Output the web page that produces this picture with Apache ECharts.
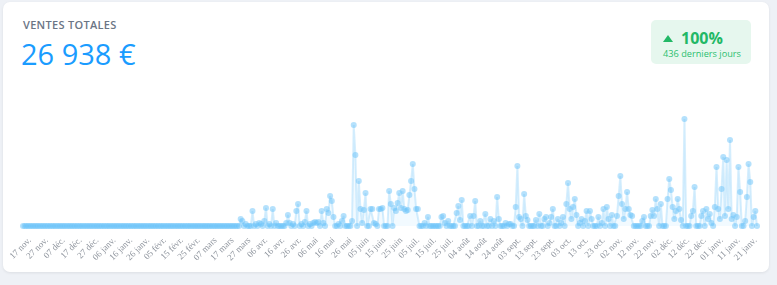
<!DOCTYPE html>
<html>
<head>
<meta charset="utf-8">
<script src="https://cdn.jsdelivr.net/npm/echarts@6/dist/echarts.min.js"></script>
<style>
html,body{margin:0;padding:0;width:777px;height:285px;background:#eef1f6;overflow:hidden;font-family:"Open Sans","Noto Sans",sans-serif;}
#card{position:absolute;left:3px;top:2px;width:766px;height:270px;background:#fff;border-radius:7px;box-shadow:0 1px 3px rgba(0,0,0,0.08);}
#title{position:absolute;left:23px;top:17px;font-size:11px;font-weight:600;color:#6b7585;letter-spacing:0.3px;}
#total{position:absolute;left:21px;top:34px;font-size:29px;color:#1a9cff;font-weight:400;}
#badge{position:absolute;left:651px;top:20px;width:100px;height:44px;background:#e6f7ee;border-radius:5px;}
#pct{position:absolute;left:12px;top:7px;font-size:16px;font-weight:700;color:#22b866;white-space:nowrap;}
#pct .tri{display:inline-block;width:0;height:0;border-left:5px solid transparent;border-right:5px solid transparent;border-bottom:7px solid #22b866;margin-right:8px;vertical-align:2px;}
#days{position:absolute;left:12px;top:27px;font-size:9.2px;color:#2bbf6e;white-space:nowrap;}
#chart{position:absolute;left:0;top:0;width:777px;height:285px;}
</style>
</head>
<body>
<div id="card"></div>
<div id="title">VENTES TOTALES</div>
<div id="total">26 938 €</div>
<div id="badge"><div id="pct"><span class="tri"></span>100%</div><div id="days">436 derniers jours</div></div>
<div id="chart"></div>
<script>
const startDate = [2022, 10, 17]; // 17 nov.
const monthNames = ["janv.","févr.","mars","avr.","mai","juin","juil.","août","sept.","oct.","nov.","déc."];
const sales = [
0,0,0,0,0,0,0,0,0,0,0,0,0,0,0,0,0,0,0,0,
0,0,0,0,0,0,0,0,0,0,0,0,0,0,0,0,0,0,0,0,
0,0,0,0,0,0,0,0,0,0,0,0,0,0,0,0,0,0,0,0,
0,0,0,0,0,0,0,0,0,0,0,0,0,0,0,0,0,0,0,0,
0,0,0,0,0,0,0,0,0,0,0,0,0,0,0,0,0,0,0,0,
0,0,0,0,0,0,0,0,0,0,0,0,0,0,0,0,0,0,0,0,
0,0,0,0,0,0,0,0,0,7,5,0,2,0,0,0,15,0,2,0,
3,2,0,5,18,0,2,0,17,0,3,0,0,0,0,0,3,11,3,0,
2,0,15,22,0,2,0,4,15,0,2,0,3,4,3,4,0,15,3,0,
17,13,30,25,9,0,0,2,0,5,10,0,0,0,0,5,101,71,0,45,
17,3,16,33,0,0,17,17,3,2,0,17,17,18,0,0,0,35,22,0,
18,15,23,33,18,35,17,15,16,31,45,62,37,17,17,0,0,0,3,0,
9,0,0,0,0,0,0,0,9,10,3,0,5,0,0,0,0,13,20,6,
26,0,0,0,0,10,0,10,25,0,0,5,0,0,12,0,0,7,0,5,
0,29,7,0,0,0,3,0,2,2,0,0,19,60,9,7,0,32,10,6,
0,0,0,0,6,0,12,0,0,7,9,0,3,9,17,0,0,7,0,3,
9,0,22,43,17,7,19,27,11,0,3,7,0,5,15,0,15,7,0,0,
0,9,0,3,17,0,19,7,0,11,0,0,10,30,50,22,7,17,34,17,
11,10,0,0,0,0,0,5,9,0,0,0,10,16,10,27,17,0,22,0,
0,0,27,47,36,19,7,15,27,17,6,0,107,0,0,0,10,15,39,0,
0,0,10,15,0,17,7,12,3,0,19,59,17,7,37,69,10,66,17,86,
7,11,0,9,59,34,0,0,5,29,62,44,0,9,15,0
];
const days = [];
for (let i = 0; i < sales.length; i++) {
  const d = new Date(Date.UTC(startDate[0], startDate[1], startDate[2] + i));
  const dd = String(d.getUTCDate()).padStart(2, "0");
  days.push(dd + " " + monthNames[d.getUTCMonth()]);
}
const chart = echarts.init(document.getElementById("chart"), null, {renderer: "canvas"});
chart.setOption({
  animation: false,
  backgroundColor: "transparent",
  grid: [
    {left: 23, right: 20, top: 119, bottom: 59},
    {left: 30, right: 13, top: 119, bottom: 59}
  ],
  xAxis: [{
    type: "category",
    gridIndex: 0,
    data: days,
    boundaryGap: false,
    axisLine: {show: false},
    axisTick: {show: false},
    splitLine: {show: false},
    axisLabel: {show: false}
  }, {
    type: "category",
    gridIndex: 1,
    data: days,
    boundaryGap: false,
    axisLine: {show: false},
    axisTick: {show: false},
    splitLine: {show: false},
    axisLabel: {
      interval: 9,
      rotate: 45,
      margin: 13,
      fontFamily: "Liberation Serif, DejaVu Serif, serif",
      fontSize: 9,
      color: "#8d939c"
    }
  }],
  yAxis: [
    {type: "value", gridIndex: 0, min: 0, max: 107, show: false, splitLine: {show: false}},
    {type: "value", gridIndex: 1, min: 0, max: 107, show: false, splitLine: {show: false}}
  ],
  series: [{
    type: "line",
    xAxisIndex: 0,
    yAxisIndex: 0,
    data: sales,
    symbol: "circle",
    symbolSize: 6,
    showSymbol: true,
    showAllSymbol: true,
    lineStyle: {color: "#5cbdf9", width: 2, opacity: 0.25},
    areaStyle: {color: "#5cbdf9", opacity: 0.08},
    itemStyle: {color: "#6cc4fa", opacity: 0.5},
    emphasis: {disabled: true}
  }]
});
</script>
</body>
</html>
